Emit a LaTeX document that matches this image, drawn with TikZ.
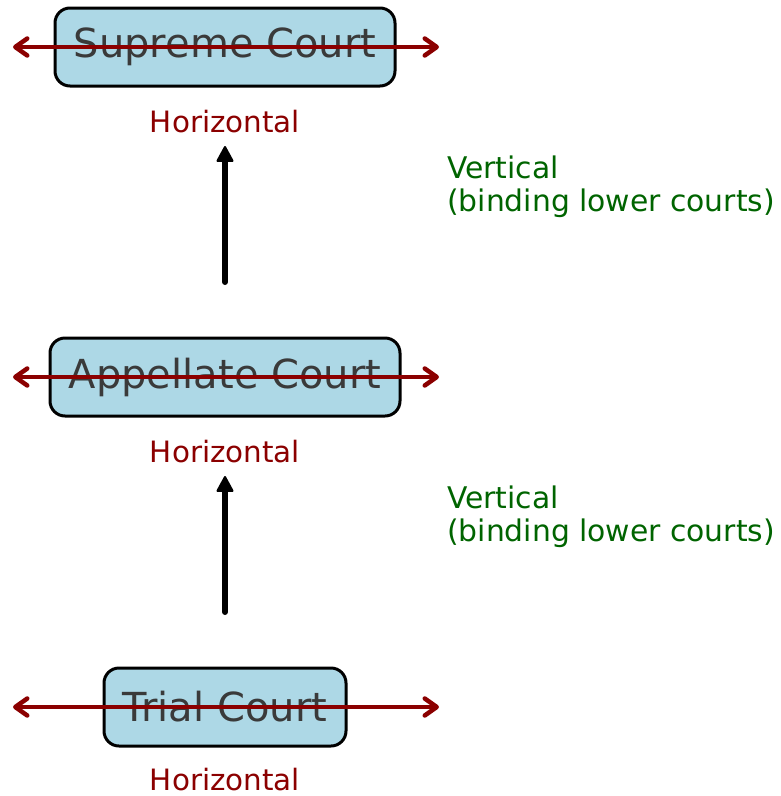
\documentclass[tikz,border=0pt]{standalone}
\usepackage{fontspec}
\setmainfont{DejaVu Sans}
\usetikzlibrary{arrows.meta}
\definecolor{boxfill}{HTML}{ADD8E6}
\definecolor{txtgray}{HTML}{3A3A3A}
\definecolor{hred}{HTML}{8B0000}
\definecolor{vgreen}{HTML}{006400}
\begin{document}
\begin{tikzpicture}[x=1pt,y=-1pt,
  court/.style={draw=black, line width=3pt, fill=boxfill, rounded corners=15pt,
    minimum height=78pt, inner sep=0pt, text=txtgray, font=\fontsize{40}{44}\selectfont},
  hlabel/.style={text=hred, font=\fontsize{29.4}{34}\selectfont, inner sep=0pt},
  vlabel/.style={text=vgreen, font=\fontsize{29.8}{33}\selectfont, inner sep=0pt, anchor=north west, align=left},
  hhead/.tip={Straight Barb[length=12pt,width=17pt,line width=4.5pt,round]},
  harrow/.style={draw=hred, line width=4.8pt, hhead-hhead},
  varrow/.style={draw=black, line width=6pt, line cap=round, -{Triangle[length=17pt,width=18pt,round,line width=2pt]}}
]
\useasboundingbox (0,0) rectangle (781,796);
% boxes
\node[court, minimum width=340pt] (sup) at (225,47) {Supreme Court};
\node[court, minimum width=350pt] (app) at (225,377) {Appellate Court};
\node[court, minimum width=242pt] (tri) at (225,707) {Trial Court};
% horizontal labels
\node[hlabel] (h1) at (225,122) {Horizontal};
\node[hlabel] (h2) at (225,452) {Horizontal};
\node[hlabel] (h3) at (225,780) {Horizontal};
% vertical labels
\node[vlabel] (v1) at (447,156) {Vertical\\(binding lower courts)};
\node[vlabel] (v2) at (447,486) {Vertical\\(binding lower courts)};
% horizontal arrow coordinates
\coordinate (s1) at (13,47); \coordinate (s2) at (439,47);
\coordinate (a1) at (13,377); \coordinate (a2) at (439,377);
\coordinate (t1) at (13,707); \coordinate (t2) at (439,707);
\draw[harrow] (s1) -- (s2);
\draw[harrow] (a1) -- (a2);
\draw[harrow] (t1) -- (t2);
% vertical arrows
\coordinate (u1) at (225,282); \coordinate (u2) at (225,146);
\coordinate (w1) at (225,612); \coordinate (w2) at (225,476);
\draw[varrow] (u1) -- (u2);
\draw[varrow] (w1) -- (w2);
\end{tikzpicture}
\end{document}
